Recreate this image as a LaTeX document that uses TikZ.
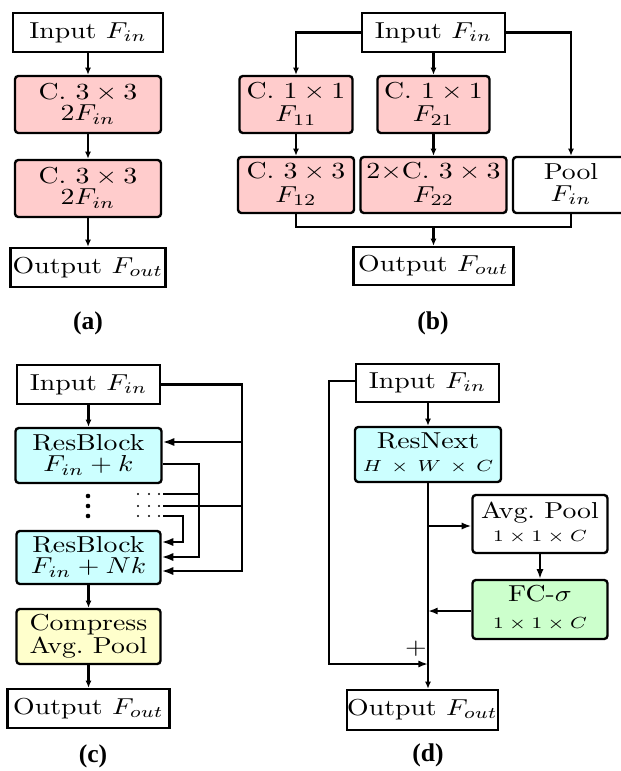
\documentclass[tikz,border=0pt]{standalone}
\usepackage{fontspec}
\usepackage{graphicx}
\usetikzlibrary{arrows.meta}
\newfontfamily\capfont{Liberation Serif}
\newcommand\tx[1]{\scalebox{1}[0.83]{\begin{tabular}{@{}c@{}}#1\end{tabular}}}
\definecolor{pinkf}{RGB}{255,204,204}
\definecolor{cyanf}{RGB}{204,255,255}
\definecolor{yelf}{RGB}{255,255,204}
\definecolor{grnf}{RGB}{204,255,204}
\begin{document}
\begin{tikzpicture}[x=0.36pt,y=-0.36pt,
  box/.style={draw, line width=0.85pt, inner sep=0pt, fill=white},
  rbox/.style={box, rounded corners=1.2pt},
  sz/.style 2 args={minimum width=#1*0.36pt, minimum height=#2*0.36pt},
  ln/.style={line width=0.8pt},
  sa/.style={ln, -{Latex[length=2.6pt,width=2.2pt]}},
  la/.style={ln, -{Latex[length=4.2pt,width=3pt]}},
  ma/.style={ln, -{Latex[length=3.5pt,width=2.6pt]}},
  captxt/.style={font=\capfont\bfseries\fontsize{9.2}{10}\selectfont}
]
\useasboundingbox (0,0) rectangle (620,771);

% (a)
\node[box, sz={150}{39}] (inA) at (88,32.5) {\tx{Input $F_{in}$}};
\node[rbox, fill=pinkf, sz={146}{57}] (a1) at (88,104.5) {\tx{C. $3\times3$\\[-2.5pt] $2F_{in}$}};
\node[rbox, fill=pinkf, sz={146}{57}] (a2) at (88,188.5) {\tx{C. $3\times3$\\[-2.5pt] $2F_{in}$}};
\node[box, sz={155}{39}] (outA) at (88,267.5) {\tx{Output $F_{out}$}};
\draw[sa] (inA) -- (a1);
\draw[sa] (a1) -- (a2);
\draw[sa] (a2) -- (outA);
\node[captxt] (capA) at (88,323) {(a)};

% (b)
\node[box, sz={143}{39}] (inB) at (433.5,32.5) {\tx{Input $F_{in}$}};
\node[rbox, fill=pinkf, sz={113}{57}] (b11) at (296,104.5) {\tx{C. $1\times1$\\[-2pt] $F_{11}$}};
\node[rbox, fill=pinkf, sz={112}{57}] (b21) at (433.5,104.5) {\tx{C. $1\times1$\\[-2pt] $F_{21}$}};
\node[rbox, fill=pinkf, sz={116}{56}] (b12) at (296,185) {\tx{C. $3\times3$\\[-2pt] $F_{12}$}};
\node[rbox, fill=pinkf, sz={146}{56}] (b22) at (433.5,185) {\tx{$2{\times}$C. $3\times3$\\[-2pt] $F_{22}$}};
\node[rbox, sz={116}{56}] (pool) at (571,185) {\tx{Pool\\[-2.5pt] $F_{in}$}};
\node[box, sz={160}{38}] (outB) at (433.5,266) {\tx{Output $F_{out}$}};
\coordinate (jB) at (433.5,227);
\draw[sa] (inB.west) -| (b11.north);
\draw[sa] (inB) -- (b21);
\draw[sa] (inB.east) -| (pool.north);
\draw[sa] (b11) -- (b12);
\draw[sa] (b21) -- (b22);
\draw[ln] (b12.south) |- (jB) -| (pool.south);
\draw[sa] (jB) -- (outB);
\node[captxt] (capB) at (433,323) {(b)};

% (c)
\node[box, sz={143}{39}] (inC) at (88.5,384.5) {\tx{Input $F_{in}$}};
\node[rbox, fill=cyanf, sz={146}{55}] (r1) at (88.5,455.5) {\tx{ResBlock\\[-2.5pt] $F_{in}+k$}};
\node[rbox, fill=cyanf, sz={144}{53}] (rN) at (88.5,557.5) {\tx{ResBlock\\[-2.5pt] $F_{in}+Nk$}};
\node[rbox, fill=yelf, sz={144}{55}] (comp) at (88.5,636.5) {\tx{Compress\\[-2pt] Avg.\ Pool}};
\node[box, sz={162}{39}] (outC) at (88.5,708.5) {\tx{Output $F_{out}$}};
\draw[sa] (inC) -- (r1);
\draw[sa] (rN) -- (comp);
\draw[sa] (comp) -- (outC);
\foreach \yy in {496,506,516} {\fill (88,\yy) circle (2.3);}
\foreach \yy in {494,506,516} {\foreach \xx in {138,149,159} {\fill (\xx,\yy) circle (1.2);}}
\coordinate (d1) at (163,494);
\coordinate (d2) at (163,506);
\coordinate (d3) at (163,516);
\coordinate (cR) at (242,571);
\coordinate (t1) at (242,442);
\coordinate (s1) at (199,464);
\coordinate (s2) at (199,557);
\coordinate (s3) at (183,542);
\draw[la] (inC.east) -| (cR) -- (cR -| rN.east);
\draw[la] (t1) -- (t1 -| r1.east);
\draw[la] (s1 -| r1.east) -- (s1) -- (s2) -- (s2 -| rN.east);
\draw[ln] (d1) -- (d1 -| s1);
\draw[ln] (d2) -- (d2 -| cR);
\draw[la] (d3) -| (s3) -- (s3 -| rN.east);
\node[captxt] (capC) at (93,756) {(c)};

% (d)
\node[box, sz={143}{38}] (inD) at (427.5,383) {\tx{Input $F_{in}$}};
\node[rbox, fill=cyanf, sz={146}{55}] (rn) at (428,454.5) {\tx{ResNext\\[-2pt] {\scriptsize $H\,\times\,W\,\times\,C$}}};
\node[rbox, sz={135}{58}] (avg) at (540,524) {\tx{Avg.\ Pool\\[-2pt] {\scriptsize $1\times1\times C$}}};
\node[rbox, fill=grnf, sz={135}{59}] (fc) at (540,609.5) {\tx{FC-$\sigma$\\[0pt] {\scriptsize $1\times1\times C$}}};
\node[box, sz={151}{40}] (outD) at (422.5,710) {\tx{Output $F_{out}$}};
\coordinate (m1) at (428,526);
\coordinate (m2) at (428,611);
\coordinate (m3) at (428,664);
\coordinate (l1) at (329,381);
\draw[sa] (inD.south -| rn.north) -- (rn.north);
\draw[sa] (rn.south) -- (rn.south |- outD.north);
\draw[ma] (m1) -- (m1 -| avg.west);
\draw[ma] (avg) -- (fc);
\draw[ma] (fc.west |- m2) -- (m2);
\draw[ma] (inD.west |- l1) -- (l1) |- (m3);
\node (plus) at (416,649) {\tx{$+$}};
\node[captxt] (capD) at (428,755) {(d)};
\end{tikzpicture}
\end{document}
